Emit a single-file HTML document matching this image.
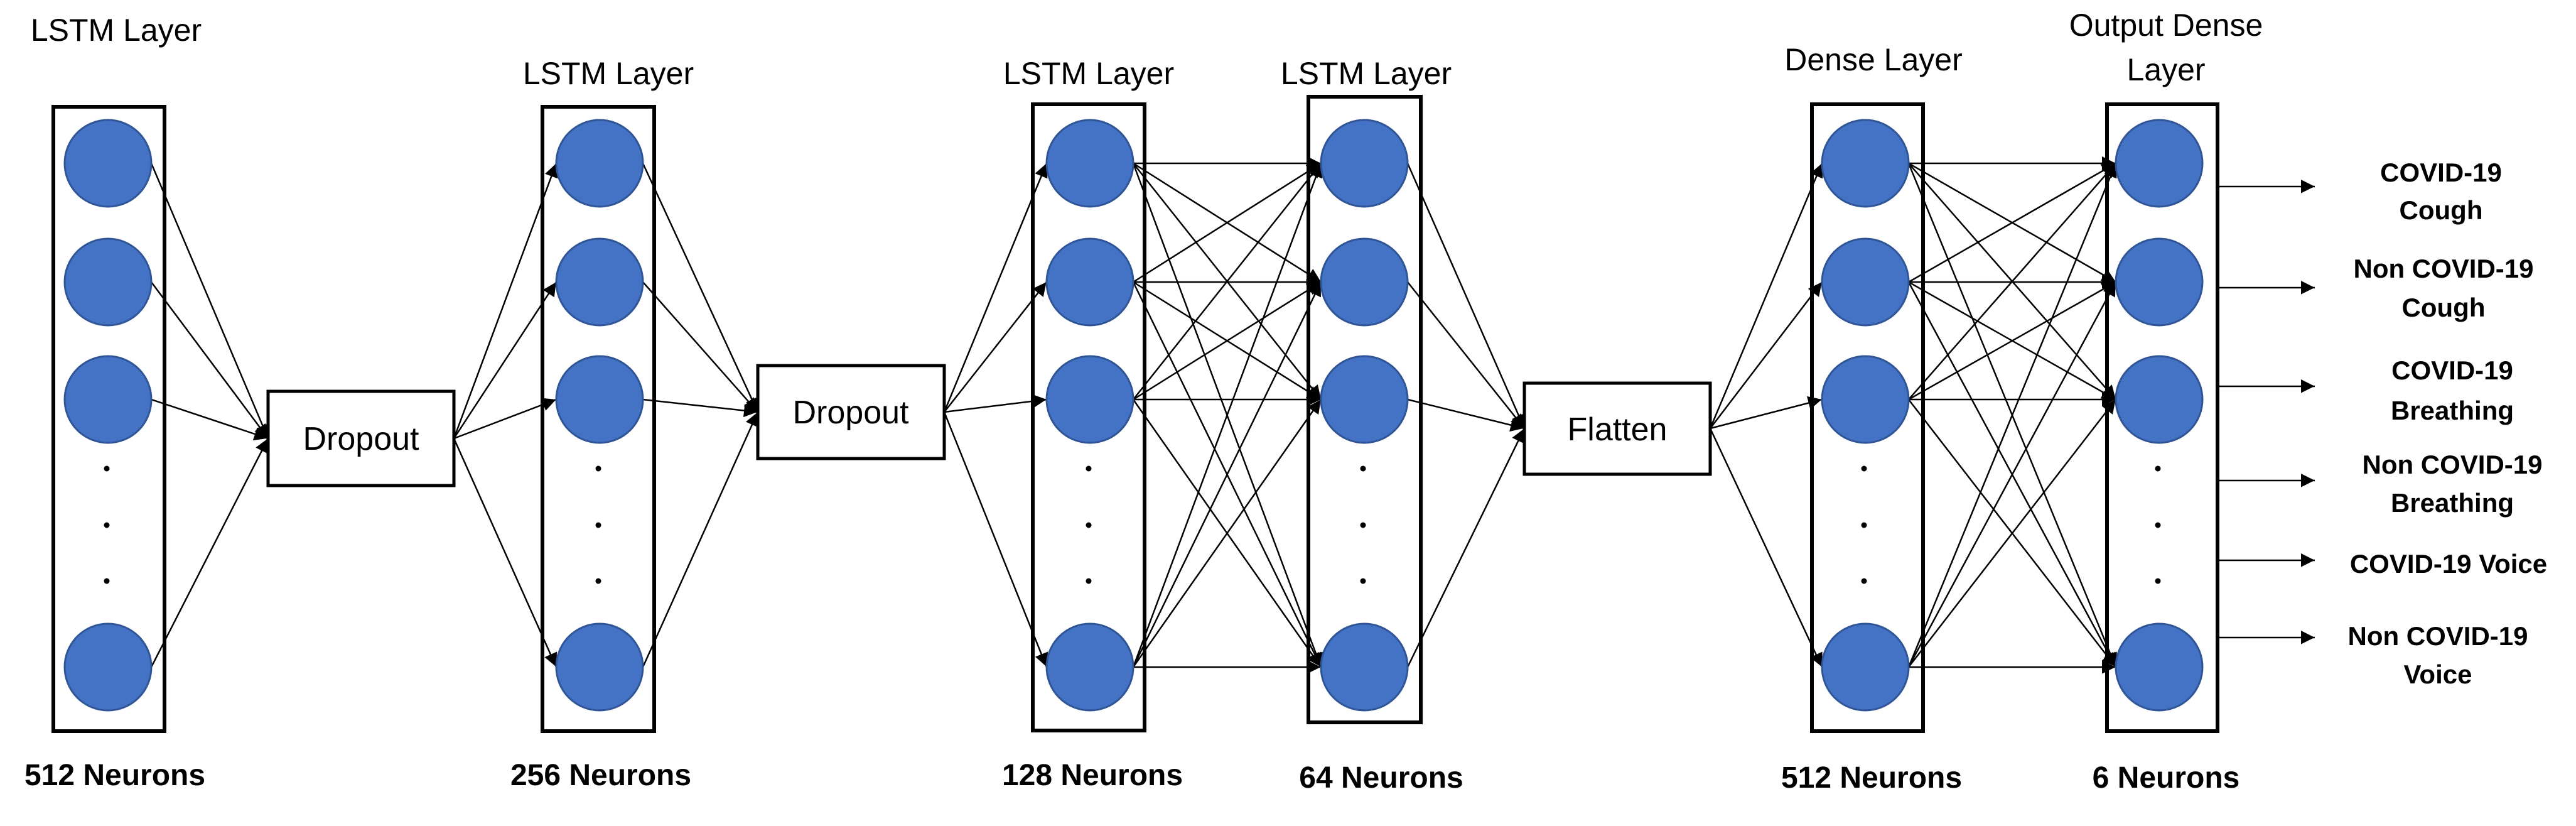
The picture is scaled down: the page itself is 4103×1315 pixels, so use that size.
<!DOCTYPE html>
<html><head><meta charset="utf-8"><style>html,body{margin:0;padding:0;background:#fff}svg{display:block}</style></head>
<body>
<svg width="4103" height="1315" viewBox="0 0 4103 1315" xmlns="http://www.w3.org/2000/svg">
<defs>
<marker id="a" viewBox="0 0 10 10" refX="10" refY="5" markerWidth="10" markerHeight="9" markerUnits="userSpaceOnUse" orient="auto" style="overflow:visible"><path d="M0,0 L10,5 L0,10 z" fill="#000" transform="scale(2.4) translate(-6,-3)"/></marker>
</defs>
<g font-family="Liberation Sans, sans-serif" text-anchor="middle" fill="#000">
<text x="185" y="65" font-size="50">LSTM Layer</text>
<text x="969" y="134" font-size="50">LSTM Layer</text>
<text x="1734" y="134" font-size="50">LSTM Layer</text>
<text x="2176" y="134" font-size="50">LSTM Layer</text>
<text x="2984" y="112" font-size="50">Dense Layer</text>
<text x="3450" y="57" font-size="50">Output Dense</text>
<text x="3450" y="128" font-size="50">Layer</text>
<g font-weight="bold" font-size="48">
<text x="183" y="1250">512 Neurons</text>
<text x="957" y="1250">256 Neurons</text>
<text x="1740" y="1250">128 Neurons</text>
<text x="2200" y="1254">64 Neurons</text>
<text x="2981" y="1254">512 Neurons</text>
<text x="3450" y="1254">6 Neurons</text>
</g>
<g font-weight="bold" font-size="42">
<text x="3888" y="289">COVID-19</text><text x="3888" y="349">Cough</text>
<text x="3892" y="442">Non COVID-19</text><text x="3892" y="504">Cough</text>
<text x="3906" y="604">COVID-19</text><text x="3906" y="668">Breathing</text>
<text x="3906" y="754">Non COVID-19</text><text x="3906" y="815">Breathing</text>
<text x="3900" y="912">COVID-19 Voice</text>
<text x="3883" y="1027">Non COVID-19</text><text x="3883" y="1088">Voice</text>
</g>
</g>
<g fill="none" stroke="#000" stroke-width="6">
<rect x="85" y="170" width="177" height="994"/>
<rect x="864" y="170" width="178" height="994"/>
<rect x="1645" y="166" width="178" height="997"/>
<rect x="2084" y="154" width="179" height="996"/>
<rect x="2886" y="166" width="177" height="998"/>
<rect x="3356" y="166" width="176" height="998"/>
<rect x="427" y="623" width="296" height="150" stroke-width="5"/>
<rect x="1207" y="582" width="297" height="148" stroke-width="5"/>
<rect x="2428" y="610" width="296" height="145" stroke-width="5"/>
</g>
<g font-family="Liberation Sans, sans-serif" text-anchor="middle" font-size="52">
<text x="575" y="716">Dropout</text>
<text x="1355" y="674">Dropout</text>
<text x="2576" y="701">Flatten</text>
</g>
<g id="lines" stroke="#000" stroke-width="2.5" fill="none" marker-end="url(#a)"></g>
<g id="circ" fill="#4472C4" stroke="#2F5597" stroke-width="3"></g>
<g id="dots" fill="#000"></g>
</svg>
<script>
(function(){
var NS="http://www.w3.org/2000/svg";
var ys=[260,449,636,1062];
var L=document.getElementById('lines'),C=document.getElementById('circ'),D=document.getElementById('dots');
var cols=[172,955,1736,2173,2971,3439];
function ln(x1,y1,x2,y2){var e=document.createElementNS(NS,'line');e.setAttribute('x1',x1);e.setAttribute('y1',y1);e.setAttribute('x2',x2);e.setAttribute('y2',y2);L.appendChild(e);return e;}
cols.forEach(function(cx){ys.forEach(function(y){var c=document.createElementNS(NS,'ellipse');c.setAttribute('cx',cx);c.setAttribute('cy',y);c.setAttribute('rx',69);c.setAttribute('ry',69);C.appendChild(c);});
[746,836,925].forEach(function(y){var d=document.createElementNS(NS,'circle');d.setAttribute('cx',cx-2);d.setAttribute('cy',y);d.setAttribute('r',4.5);D.appendChild(d);});});
function toBox(ci,bx,by){ys.forEach(function(y){ln(cols[ci]+69,y,bx,by);});}
function fromBox(bx,by,ci){ys.forEach(function(y){ln(bx,by,cols[ci]-69,y);});}
function mesh(a,b){ys.forEach(function(y1){ys.forEach(function(y2){ln(cols[a]+69,y1,cols[b]-69,y2);});});}
toBox(0,427,698);fromBox(723,698,1);toBox(1,1207,656);fromBox(1504,656,2);mesh(2,3);toBox(3,2428,682);fromBox(2724,682,4);mesh(4,5);
[297,458,615,765,892,1015].forEach(function(y){ln(3535,y,3687,y);});
})();
</script>
</body></html>
